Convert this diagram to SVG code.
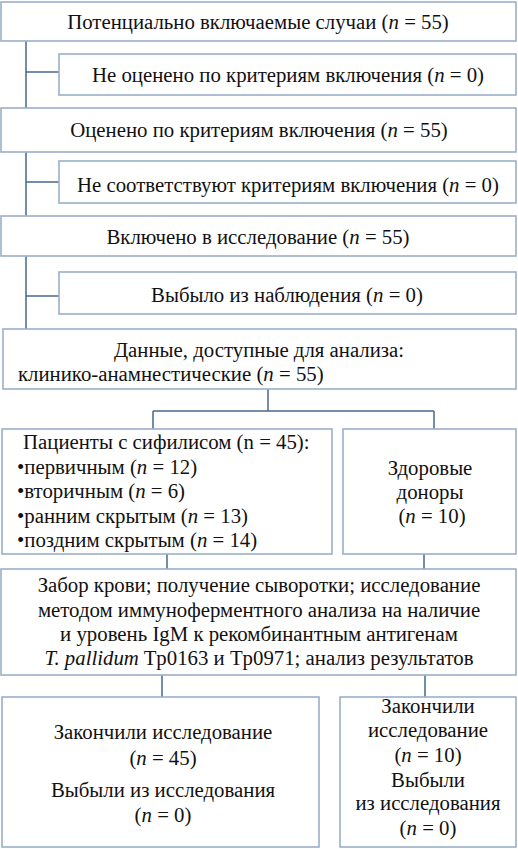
<svg xmlns="http://www.w3.org/2000/svg" width="518" height="849" viewBox="0 0 518 849">
<style>
.box{fill:#fff;stroke:#9AB0CA;stroke-width:1.6}
.con{fill:none;stroke:#47698E;stroke-width:1.5}
.c{text-anchor:middle}
.i{font-style:italic}
</style>
<rect width="518" height="849" fill="#fff"/>
<g id="connectors">
<path class="con" d="M26,41V108M26,72H59"/>
<path class="con" d="M26,152V216M26,182H59"/>
<path class="con" d="M26,256V329M26,296H59"/>
<path class="con" d="M268,389V411M153,411H434M153,411V429M434,411V429"/>
<path class="con" d="M167,554V569M424,554V569"/>
<path class="con" d="M162,675V697M425,675V697"/>
</g>
<g font-family="Liberation Serif, DejaVu Serif, serif" font-size="20.8" fill="#111">
<g id="n1"><rect class="box" x="1" y="2" width="515" height="39"/>
<text class="c" x="258" y="29">Потенциально включаемые случаи (<tspan class="i">n</tspan> = 55)</text></g>
<g id="n2"><rect class="box" x="59" y="54" width="457" height="41"/>
<text class="c" x="288" y="82">Не оценено по критериям включения (<tspan class="i">n</tspan> = 0)</text></g>
<g id="n3"><rect class="box" x="1" y="108" width="515" height="44"/>
<text class="c" x="259" y="137">Оценено по критериям включения (<tspan class="i">n</tspan> = 55)</text></g>
<g id="n4"><rect class="box" x="59" y="161" width="457" height="42"/>
<text class="c" x="288" y="192">Не соответствуют критериям включения (<tspan class="i">n</tspan> = 0)</text></g>
<g id="n5"><rect class="box" x="1" y="216" width="515" height="40"/>
<text class="c" x="258" y="244">Включено в исследование (<tspan class="i">n</tspan> = 55)</text></g>
<g id="n6"><rect class="box" x="59" y="272" width="457" height="42"/>
<text class="c" x="287" y="302">Выбыло из наблюдения (<tspan class="i">n</tspan> = 0)</text></g>
<g id="n7"><rect class="box" x="3" y="329" width="513" height="60"/>
<text class="c" x="259" y="357">Данные, доступные для анализа:</text>
<text x="18" y="381">клинико-анамнестические (<tspan class="i">n</tspan> = 55)</text></g>
<g id="n8"><rect class="box" x="2" y="429" width="330" height="125"/>
<text x="23" y="449">Пациенты с сифилисом (n = 45):</text>
<text x="17" y="474">•первичным (<tspan class="i">n</tspan> = 12)</text>
<text x="17" y="498">•вторичным (<tspan class="i">n</tspan> = 6)</text>
<text x="17" y="522.5">•ранним скрытым (<tspan class="i">n</tspan> = 13)</text>
<text x="17" y="546.5">•поздним скрытым (<tspan class="i">n</tspan> = 14)</text></g>
<g id="n9"><rect class="box" x="343" y="429" width="173" height="125"/>
<text class="c" x="430" y="475">Здоровые</text>
<text class="c" x="430" y="499">доноры</text>
<text class="c" x="432" y="523">(<tspan class="i">n</tspan> = 10)</text></g>
<g id="n10"><rect class="box" x="1" y="569" width="515" height="106"/>
<text class="c" x="259" y="592">Забор крови; получение сыворотки; исследование</text>
<text class="c" x="259" y="617">методом иммуноферментного анализа на наличие</text>
<text class="c" x="259" y="641">и уровень IgM к рекомбинантным антигенам</text>
<text class="c" x="259" y="665"><tspan class="i">T. pallidum</tspan> Tp0163 и Tp0971; анализ результатов</text></g>
<g id="n11"><rect class="box" x="2" y="697" width="317" height="150"/>
<text class="c" x="163" y="739">Закончили исследование</text>
<text class="c" x="163" y="765">(<tspan class="i">n</tspan> = 45)</text>
<text class="c" x="163" y="797">Выбыли из исследования</text>
<text class="c" x="163" y="822">(<tspan class="i">n</tspan> = 0)</text></g>
<g id="n12"><rect class="box" x="340" y="697" width="176" height="150"/>
<text class="c" x="428" y="713">Закончили</text>
<text class="c" x="428" y="737">исследование</text>
<text class="c" x="428" y="762">(<tspan class="i">n</tspan> = 10)</text>
<text class="c" x="428" y="787">Выбыли</text>
<text class="c" x="428" y="810">из исследования</text>
<text class="c" x="428" y="835">(<tspan class="i">n</tspan> = 0)</text></g>
</g>
</svg>
